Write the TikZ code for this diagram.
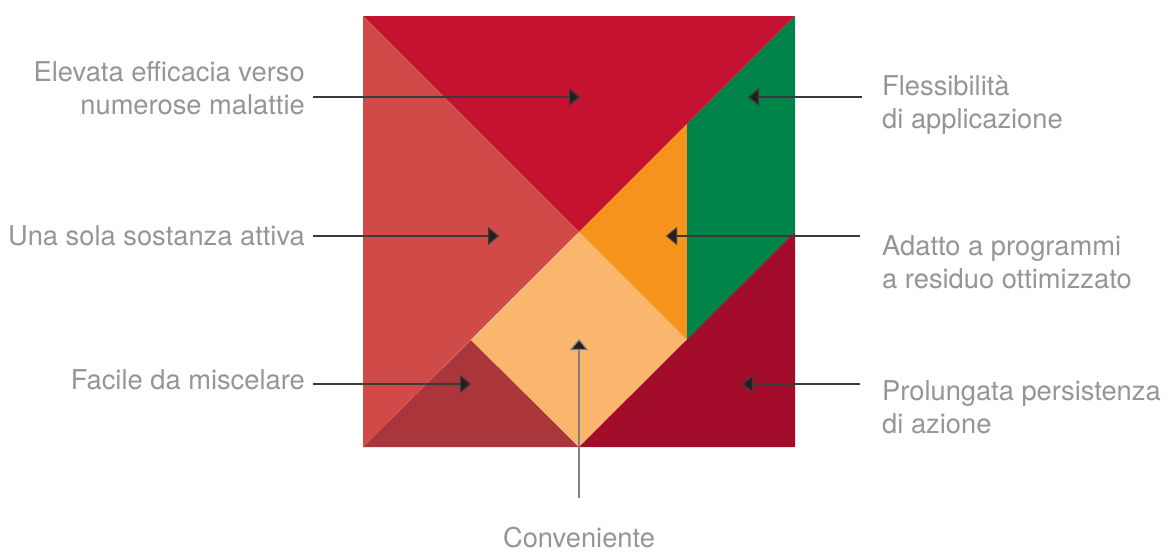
\documentclass[tikz,border=0pt]{standalone}
\usepackage{fontspec}
\setmainfont{TeX Gyre Heros}
\usetikzlibrary{arrows.meta}
\definecolor{ptop}{HTML}{C41230}
\definecolor{pleft}{HTML}{D04B48}
\definecolor{psmall}{HTML}{AA353A}
\definecolor{psquare}{HTML}{FBB66D}
\definecolor{porange}{HTML}{F7941E}
\definecolor{pgreen}{HTML}{008348}
\definecolor{pbr}{HTML}{A30D2B}
\definecolor{txtgray}{HTML}{939598}
\definecolor{linegray}{HTML}{3A3A3A}
\definecolor{tipcol}{HTML}{231F20}
\tikzset{
  piece/.style={draw=none},
  lbl/.style={text=txtgray, font=\fontsize{27.3}{33.5}\selectfont, inner sep=0pt},
  lblr/.style={lbl, anchor=east, align=right},
  lbll/.style={lbl, anchor=west, align=left},
  pointer/.style={draw=linegray, line width=1.2pt, -{Triangle[length=11pt,width=18pt,fill=tipcol]}},
}
\begin{document}
\begin{tikzpicture}[x=1pt,y=-1pt]
\useasboundingbox (0,0) rectangle (1175,552);
% tangram corners
\coordinate (TL) at (363,16);
\coordinate (TR) at (795,16);
\coordinate (BL) at (363,447);
\coordinate (BR) at (795,447);
\coordinate (C) at (579,232);
\coordinate (BM) at (579,447);
\coordinate (LM) at (471,340);
\coordinate (RM) at (687,340);
\coordinate (RU) at (687,124);
\coordinate (RR) at (795,232);
% pieces
\fill[ptop] (TL) -- (TR) -- (C) -- cycle;
\fill[pleft] (TL) -- (C) -- (BL) -- cycle;
\fill[psmall] (BL) -- (LM) -- (BM) -- cycle;
\fill[psquare] (C) -- (RM) -- (BM) -- (LM) -- cycle;
\fill[porange] (C) -- (RU) -- (RM) -- cycle;
\fill[pgreen] (RU) -- (TR) -- (RR) -- (RM) -- cycle;
\fill[pbr] (RR) -- (BR) -- (BM) -- cycle;
% labels
\node[lblr] (l1) at (305,88) {Elevata efficacia verso\\numerose malattie};
\node[lblr] (l2) at (305,236) {Una sola sostanza attiva};
\node[lbll] (r1) at (882,105) {Flessibilità\\di applicazione};
\node[lblr] (l3) at (305,380) {Facile da miscelare};
\node[lbll] (r2) at (882,262) {Adatto a programmi\\a residuo ottimizzato};
\node[lbll] (r3) at (882,407) {Prolungata persistenza\\di azione};
\node[lbl, anchor=center] (b1) at (579,538) {Conveniente};
% pointer ends
\coordinate (s1) at (313,97);  \coordinate (t1) at (580,97);
\coordinate (s2) at (313,236); \coordinate (t2) at (499,236);
\coordinate (s3) at (313,384); \coordinate (t3) at (471,384);
\coordinate (s4) at (862,97);  \coordinate (t4) at (748,97);
\coordinate (s5) at (860,236); \coordinate (t5) at (666,236);
\coordinate (s6) at (860,384); \coordinate (t6) at (742,384);
\coordinate (s7) at (579,498); \coordinate (t7) at (579,339);
\draw[pointer] (s1) -- (t1);
\draw[pointer] (s2) -- (t2);
\draw[pointer] (s3) -- (t3);
\draw[pointer] (s4) -- (t4);
\draw[pointer] (s5) -- (t5);
\draw[pointer] (s6) -- (t6);
\draw[pointer, draw=gray] (s7) -- (t7);
\end{tikzpicture}
\end{document}
